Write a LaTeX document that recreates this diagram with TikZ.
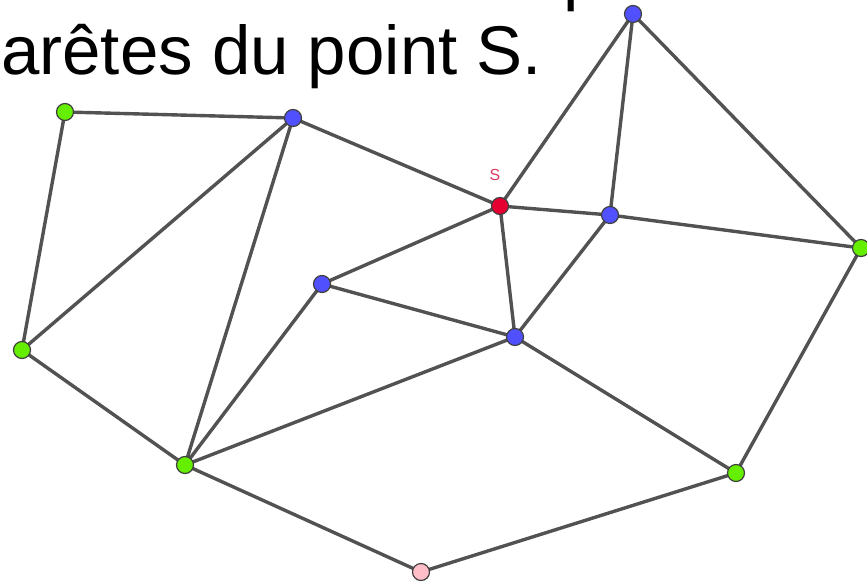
\documentclass[tikz,border=0pt]{standalone}
\usepackage{fontspec}
\setmainfont{Liberation Sans}
\begin{document}
\begin{tikzpicture}[x=1pt,y=-1pt,
  edge/.style={draw=black!68,line width=3.4pt},
  vtx/.style={circle,inner sep=0pt,minimum size=17pt,draw=black!75,line width=1.2pt},
  gv/.style={vtx,fill={rgb,255:red,102;green,238;blue,0}},
  bv/.style={vtx,fill={rgb,255:red,80;green,80;blue,255}},
  rv/.style={vtx,fill={rgb,255:red,230;green,0;blue,50}},
  pv/.style={vtx,fill={rgb,255:red,255;green,190;blue,200}}]
\useasboundingbox (0,0) rectangle (867,583);
\node[anchor=base west,inner sep=0pt,font=\fontsize{69}{69}\selectfont] (title) at (1,75) {arêtes du point S.};
\node[anchor=base west,inner sep=0pt,font=\fontsize{69}{69}\selectfont] (cut) at (563,-2) {p};
\coordinate (G1) at (65,112);
\coordinate (B1) at (293,118);
\coordinate (S) at (500,206);
\coordinate (B2) at (633,14);
\coordinate (B3) at (610,215);
\coordinate (G2) at (861,248);
\coordinate (B4) at (322,284);
\coordinate (B5) at (515,337);
\coordinate (G3) at (22,350);
\coordinate (G4) at (185,465);
\coordinate (G5) at (736,473);
\coordinate (P) at (421,572);
\path[edge] (G1)--(B1) (G1)--(G3) (G3)--(B1) (G3)--(G4) (B1)--(G4) (B1)--(S)
  (S)--(B2) (S)--(B3) (S)--(B4) (S)--(B5) (B2)--(B3) (B2)--(G2) (B3)--(G2)
  (B3)--(B5) (B4)--(B5) (B4)--(G4) (B5)--(G4) (B5)--(G5) (G5)--(G2) (G4)--(P) (P)--(G5);
\node[gv] (nG1) at (G1) {};
\node[bv] (nB1) at (B1) {};
\node[rv] (nS) at (S) {};
\node[bv] (nB2) at (B2) {};
\node[bv] (nB3) at (B3) {};
\node[gv] (nG2) at (G2) {};
\node[bv] (nB4) at (B4) {};
\node[bv] (nB5) at (B5) {};
\node[gv] (nG3) at (G3) {};
\node[gv] (nG4) at (G4) {};
\node[gv] (nG5) at (G5) {};
\node[pv] (nP) at (P) {};
\node[text={rgb,255:red,220;green,60;blue,100},font=\fontsize{16}{16}\selectfont,inner sep=0pt] (lS) at (495,175) {S};
\end{tikzpicture}
\end{document}
